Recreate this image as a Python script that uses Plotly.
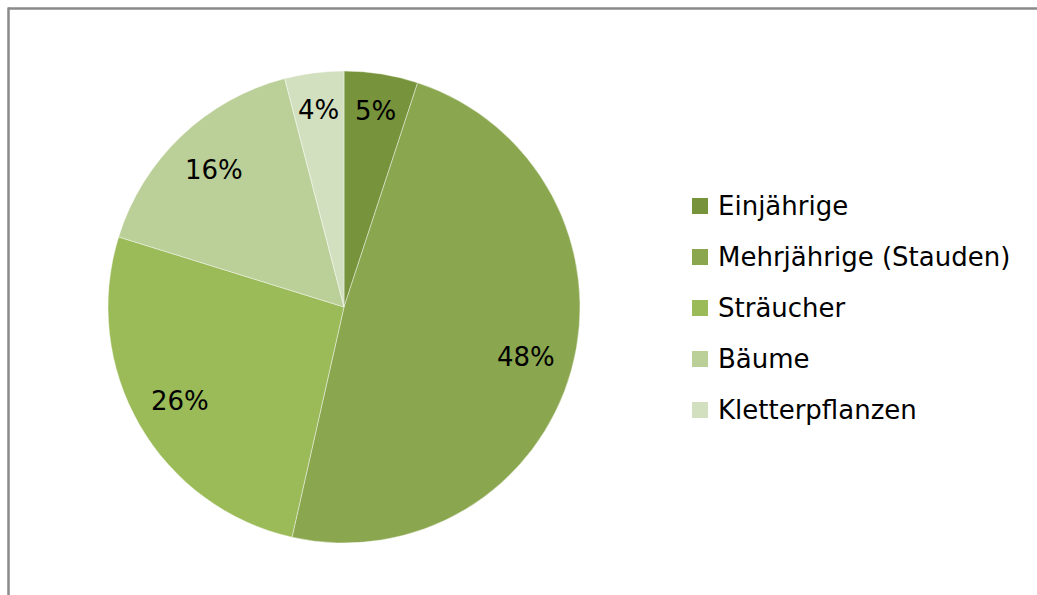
import math
import plotly.graph_objects as go

# Plant categories and their share (%)
categories = ["Einjährige", "Mehrjährige (Stauden)", "Sträucher", "Bäume", "Kletterpflanzen"]
shares = [5, 48, 26, 16, 4]
colors = ["#77933C", "#8AA64F", "#9BBB59", "#BBCF98", "#D3E0BF"]

W, H = 1037, 595
FONT = "DejaVu Sans"
FS = 26

# Pie placement (pixels)
cx_px, cy_px, r_px = 344, 307, 236
dom_x = [(cx_px - r_px) / W, (cx_px + r_px) / W]
dom_y = [1 - (cy_px + r_px) / H, 1 - (cy_px - r_px) / H]

fig = go.Figure(
    go.Pie(
        labels=categories,
        values=shares,
        sort=False,
        direction="clockwise",
        rotation=0,
        marker=dict(colors=colors, line=dict(color="rgba(255,255,255,0.6)", width=0.7)),
        textinfo="none",
        hoverinfo="label+value",
        domain=dict(x=dom_x, y=dom_y),
        showlegend=False,
    )
)

annotations = []
shapes = []

# Percentage labels placed at the middle angle of each slice
total = sum(shares)
cum = 0.0
for val in shares:
    mid = (cum + val / 2) / total * 2 * math.pi
    cum += val
    frac = 0.84 if val < 10 else 0.80
    x = (cx_px + r_px * frac * math.sin(mid)) / W
    y = 1 - (cy_px - r_px * frac * math.cos(mid)) / H
    annotations.append(dict(
        x=x, y=y, xref="paper", yref="paper", showarrow=False,
        text=f"{val}%", font=dict(family=FONT, size=FS, color="#000000"),
        xanchor="center", yanchor="middle",
    ))

# Legend: colour squares with category names
leg_x_px, leg_y0_px, leg_dy_px, sq = 692, 206, 51, 16
for i, (name, col) in enumerate(zip(categories, colors)):
    yc = leg_y0_px + i * leg_dy_px
    shapes.append(dict(
        type="rect", xref="paper", yref="paper",
        x0=leg_x_px / W, x1=(leg_x_px + sq) / W,
        y0=1 - (yc + sq / 2) / H, y1=1 - (yc - sq / 2) / H,
        fillcolor=col, line=dict(width=0),
    ))
    annotations.append(dict(
        x=(leg_x_px + sq + 8) / W, y=1 - yc / H, xref="paper", yref="paper",
        showarrow=False, text=name, font=dict(family=FONT, size=FS, color="#000000"),
        xanchor="left", yanchor="middle",
    ))

# Chart frame (top and left edges)
shapes.append(dict(type="line", xref="paper", yref="paper",
                   x0=8 / W, x1=1.0, y0=1 - 8.5 / H, y1=1 - 8.5 / H,
                   line=dict(color="#8A8A8A", width=2.5)))
shapes.append(dict(type="line", xref="paper", yref="paper",
                   x0=8.5 / W, x1=8.5 / W, y0=0.0, y1=1 - 7.5 / H,
                   line=dict(color="#8A8A8A", width=2.5)))

fig.update_layout(
    width=W, height=H,
    margin=dict(l=0, r=0, t=0, b=0),
    paper_bgcolor="white",
    plot_bgcolor="white",
    font=dict(family=FONT),
    annotations=annotations,
    shapes=shapes,
)

fig.write_html("out.html")
